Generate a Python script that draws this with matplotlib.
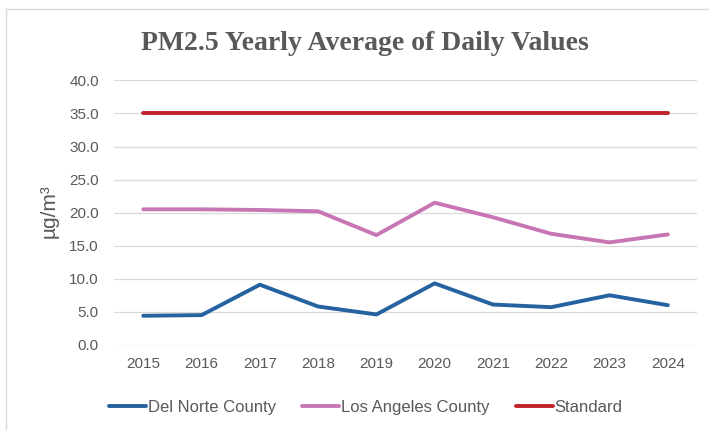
import matplotlib
matplotlib.use("Agg")
import matplotlib.pyplot as plt
from matplotlib.lines import Line2D

years = ["2015", "2016", "2017", "2018", "2019", "2020", "2021", "2022", "2023", "2024"]
del_norte = [4.4, 4.5, 9.1, 5.8, 4.6, 9.3, 6.1, 5.7, 7.5, 6.0]
los_angeles = [20.5, 20.5, 20.4, 20.2, 16.6, 21.5, 19.3, 16.8, 15.5, 16.7]
standard = [35.0] * len(years)

grey = "#595959"
plt.rcParams["font.family"] = ["Liberation Sans", "DejaVu Sans"]

fig = plt.figure(figsize=(7.09, 4.30), dpi=100)
ax = fig.add_axes([0.161, 0.198, 0.822, 0.615])

x = range(len(years))
ax.plot(x, del_norte, color="#2462a0", lw=2.8, solid_capstyle="round", label="Del Norte County")
ax.plot(x, los_angeles, color="#c875b4", lw=2.8, solid_capstyle="round", label="Los Angeles County")
ax.plot(x, standard, color="#c0202a", lw=2.8, solid_capstyle="round", label="Standard")

ax.set_xlim(-0.5, len(years) - 0.5)
ax.set_ylim(0, 40)
ax.set_yticks(range(0, 41, 5))
ax.set_yticklabels([f"{v:.1f}" for v in range(0, 41, 5)])
ax.set_xticks(list(x))
ax.set_xticklabels(years)
ax.tick_params(length=0, labelsize=11, labelcolor=grey)
ax.tick_params(axis="y", pad=11)
ax.tick_params(axis="x", pad=9)
ax.grid(axis="y", color="#d9d9d9", lw=0.9)
ax.set_axisbelow(True)
for s in ax.spines.values():
    s.set_visible(False)

ax.set_ylabel("µg/m³", fontsize=15, color=grey)
ax.yaxis.set_label_coords(-0.095, 0.505)

fig.text(0.514, 0.898, "PM2.5 Yearly Average of Daily Values", ha="center", va="center",
         fontsize=20, fontweight="bold", family="Liberation Serif", color=grey)

fig.legend(loc="center", bbox_to_anchor=(0.516, 0.053), ncol=3, frameon=False,
           fontsize=12, labelcolor=grey, handlelength=2.2, handletextpad=0.1,
           columnspacing=1.6)

# light frame around the chart area
fig.add_artist(Line2D([6 / 709, 6 / 709], [0, 1 - 9 / 430], color="#d9d9d9", lw=1))
fig.add_artist(Line2D([6 / 709, 1], [1 - 9 / 430, 1 - 9 / 430], color="#d9d9d9", lw=1))

fig.savefig("out.png", dpi=100)
